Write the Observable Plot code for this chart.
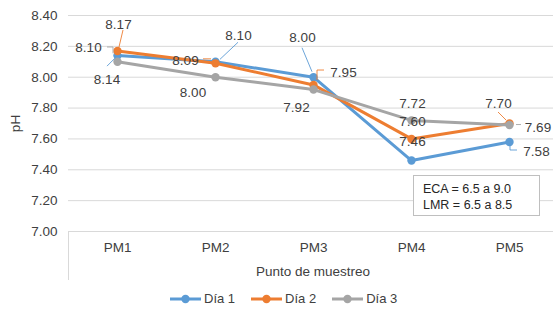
<!DOCTYPE html>
<html>
<head>
<meta charset="utf-8">
<script src="https://cdn.jsdelivr.net/npm/d3@7"></script>
<script src="https://cdn.jsdelivr.net/npm/@observablehq/plot@0.6"></script>
<style>
  html, body { margin: 0; padding: 0; background: #fff; }
  #wrap { position: relative; width: 553px; height: 312px; font-family: "Liberation Sans", Arial, sans-serif; color: #404040; }
  #note { position: absolute; left: 413px; top: 175px; width: 127px; height: 41px; border: 1px solid #BFBFBF; background: #fff; box-sizing: border-box; padding: 5px 0 0 9px; font-size: 12.5px; line-height: 16px; color: #262626; }
  #legend { position: absolute; left: 0; top: 285px; width: 553px; height: 27px; display: flex; align-items: center; justify-content: flex-start; padding-left: 170px; box-sizing: border-box; font-size: 13px; color: #404040; }
  .item { display: flex; align-items: center; margin-right: 16px; }
  .item svg { margin-right: 3px; }
</style>
</head>
<body>
<div id="wrap"></div>
<script>
// ---- data ----
const categories = ["PM1", "PM2", "PM3", "PM4", "PM5"];
const seriesNames = ["Día 1", "Día 2", "Día 3"];
const dia1 = [8.14, 8.10, 8.00, 7.46, 7.58];
const dia2 = [8.17, 8.09, 7.95, 7.60, 7.70];
const dia3 = [8.10, 8.00, 7.92, 7.72, 7.69];
const yTicks = [7.0, 7.2, 7.4, 7.6, 7.8, 8.0, 8.2, 8.4];
const colors = ["#5B9BD5", "#ED7D31", "#A5A5A5"];
const yLabel = "pH";
const xLabel = "Punto de muestreo";
const noteLines = ["ECA = 6.5 a 9.0", "LMR = 6.5 a 8.5"];

// ---- label layout (pixel offsets from each point) ----
const labelOffsets = [
  [[-10.5, 24], [23, -26], [-11, -40], [1, -19], [27, 9.5]],
  [[1, -26.5], [-30, -3], [30, -12], [1, -17], [-11, -20]],
  [[-29, -14.3], [-22.5, 15], [-17, 18], [1, -17], [28.5, 2.5]]
];
const leaders = [
  [[[-10, 11], [-2, 3]], [[23, -19], [5, -2]], [[-11, -29], [-1, -5]], null, [[1, 1.5], [1, 8.5], [8, 8.5]]],
  [[[6, -20.5], [2, -3.5]], [[-12, -4], [-4, -4]], [[11, -14.4], [4, -14.4], [4, -4.4]], null, [[-11, -11], [-3, -3]]],
  [[[-10, -14.3], [-4, -14.3], [-4, -8]], null, null, null, [[7, 0], [12, 0]]]
];

const values = [dia1, dia2, dia3];
const table = [];
seriesNames.forEach((s, si) => categories.forEach((c, ci) => table.push({series: s, si, ci, cat: c, value: values[si][ci]})));

const font = '"Liberation Sans", Arial, sans-serif';
const marks = [
  Plot.gridY(yTicks, {stroke: "#D9D9D9", strokeOpacity: 1, strokeWidth: 1}),
  Plot.axisY(yTicks, {tickSize: 0, tickPadding: 11, tickFormat: d => d.toFixed(2), label: null}),
  Plot.axisX(categories, {tickSize: 0, tickPadding: 11, label: null}),
  Plot.text([yLabel], {frameAnchor: "left", dx: -53, rotate: -90, textAnchor: "middle"}),
  Plot.text([xLabel], {frameAnchor: "bottom", dy: 40, dx: 2, lineAnchor: "middle"})
];
seriesNames.forEach((s, si) => {
  const rows = table.filter(d => d.si === si);
  marks.push(Plot.line(rows, {x: "cat", y: "value", stroke: "series", strokeWidth: 3, strokeLinejoin: "round", strokeLinecap: "round"}));
  marks.push(Plot.dot(rows, {x: "cat", y: "value", fill: "series", r: 4.2, stroke: "none"}));
});
table.forEach(d => {
  const [dx, dy] = labelOffsets[d.si][d.ci];
  marks.push(Plot.text([d], {x: "cat", y: "value", text: r => r.value.toFixed(2), dx, dy, fill: "#404040"}));
});

const plot = Plot.plot({
  width: 553, height: 285,
  marginLeft: 68, marginRight: 0, marginTop: 15, marginBottom: 54,
  style: {fontFamily: font, fontSize: "13.5px", color: "#404040", background: "transparent", overflow: "visible"},
  x: {type: "point", domain: categories, range: [117, 509], padding: 0, axis: null},
  y: {domain: [7, 8.4], axis: null},
  color: {domain: seriesNames, range: colors},
  marks
});
document.getElementById("wrap").appendChild(plot);

// leader lines drawn through the plot's own scales
const sx = plot.scale("x"), sy = plot.scale("y");
const fx = sx.apply ? v => sx.apply(v) : d3.scalePoint().domain(sx.domain).range(sx.range);
const fy = sy.apply ? v => sy.apply(v) : d3.scaleLinear().domain(sy.domain).range(sy.range);
const g = d3.select(plot).append("g").attr("fill", "none");
table.forEach(d => {
  const pts = leaders[d.si][d.ci];
  if (!pts) return;
  const px = fx(d.cat), py = fy(d.value);
  g.append("polyline")
    .attr("points", pts.map(([a, b]) => `${px + a},${py + b}`).join(" "))
    .attr("stroke", colors[d.si]).attr("stroke-width", 0.9);
});
// left edge rule of the category axis
const y0 = fy(yTicks[0]);
g.append("line").attr("x1", 68.5).attr("x2", 68.5).attr("y1", y0).attr("y2", y0 + 49).attr("stroke", "#D9D9D9");

// annotation box
const note = document.createElement("div");
note.id = "note";
note.innerHTML = noteLines.map(t => `<div>${t}</div>`).join("");
document.getElementById("wrap").appendChild(note);

// legend
const legend = document.createElement("div");
legend.id = "legend";
seriesNames.forEach((s, i) => {
  const item = document.createElement("div");
  item.className = "item";
  item.innerHTML = `<svg width="31" height="10"><line x1="0" x2="31" y1="5" y2="5" stroke="${colors[i]}" stroke-width="3"/><circle cx="15.5" cy="5" r="4.2" fill="${colors[i]}"/></svg><span>${s}</span>`;
  legend.appendChild(item);
});
document.getElementById("wrap").appendChild(legend);
</script>
</body>
</html>
